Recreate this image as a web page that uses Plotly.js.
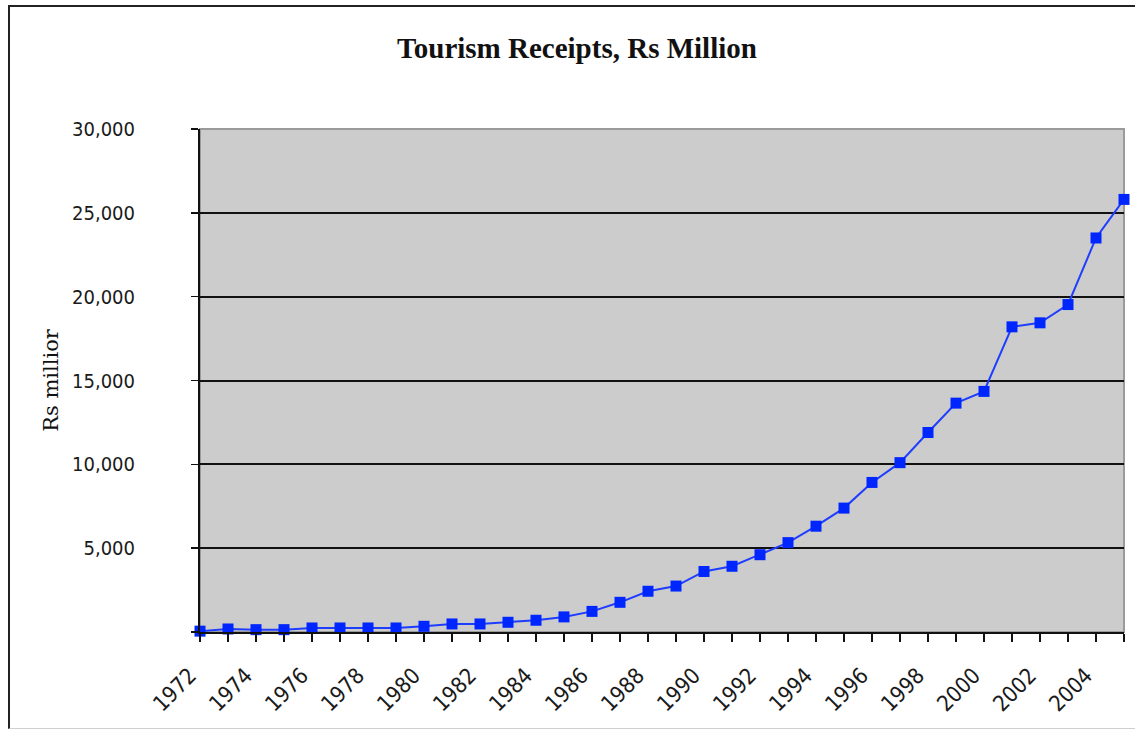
<!DOCTYPE html>
<html>
<head>
<meta charset="utf-8">
<script src="https://cdn.plot.ly/plotly-3.0.1.min.js"></script>
<style>
  html, body { margin: 0; padding: 0; background: #ffffff; }
  #wrap { position: relative; width: 1135px; height: 730px; overflow: hidden; }
  #chart { position: absolute; left: 0; top: 0; width: 1135px; height: 730px; }
  /* chart-area frame: dark on the left and top, light along the bottom, open to the right */
  #frame {
    position: absolute; left: 8px; top: 5px; width: 1140px; height: 721px;
    border-left: 2px solid #222; border-top: 2px solid #222; border-bottom: 1px solid #cfcfcf;
    pointer-events: none; z-index: 2;
  }
</style>
</head>
<body>
<div id="wrap">
  <div id="chart"></div>
  <div id="frame"></div>
</div>
<script>
// Annual tourism receipts, Rs million
const years = [1972, 1973, 1974, 1975, 1976, 1977, 1978, 1979, 1980, 1981,
               1982, 1983, 1984, 1985, 1986, 1987, 1988, 1989, 1990, 1991,
               1992, 1993, 1994, 1995, 1996, 1997, 1998, 1999, 2000, 2001,
               2002, 2003, 2004, 2005];
const receipts = [50, 180, 140, 140, 240, 240, 240, 240, 340, 480,
                  480, 580, 700, 900, 1230, 1770, 2430, 2740, 3610, 3920,
                  4610, 5330, 6310, 7390, 8920, 10100, 11900, 13650, 14350, 18200,
                  18440, 19530, 23500, 25800];

// Axis labels
const yearTicks = [1972, 1974, 1976, 1978, 1980, 1982, 1984, 1986, 1988, 1990,
                   1992, 1994, 1996, 1998, 2000, 2002, 2004];
const yearLabels = yearTicks.map(String);
const valueTicks = [0, 5000, 10000, 15000, 20000, 25000, 30000];
const valueLabels = ['', '5,000', '10,000', '15,000', '20,000', '25,000', '30,000'];

const narrowSans = '"Liberation Sans Narrow", "DejaVu Sans Condensed", "Arial Narrow", sans-serif';

const trace = {
  x: years,
  y: receipts,
  type: 'scatter',
  mode: 'lines+markers',
  line: { color: '#1f3dff', width: 2 },
  marker: { symbol: 'square', size: 11, color: '#0026ff', line: { width: 0 } },
  cliponaxis: false,
  hoverinfo: 'x+y'
};

const layout = {
  width: 1135,
  height: 730,
  margin: { l: 200, r: 11, t: 129, b: 98 },
  paper_bgcolor: '#ffffff',
  plot_bgcolor: '#cccccc',
  showlegend: false,
  title: {
    text: 'Tourism Receipts, Rs Million',
    font: { family: '"Liberation Serif", "Times New Roman", serif', size: 29, color: '#111111', weight: 'bold' },
    xref: 'container', x: 577 / 1135, xanchor: 'center',
    yref: 'container', y: 1 - 48 / 730, yanchor: 'middle'
  },
  xaxis: {
    range: [1972, 2005],
    tickmode: 'array',
    tickvals: yearTicks,
    ticktext: yearLabels,
    tickangle: -45,
    ticks: 'outside',
    ticklen: 8,
    tickwidth: 1.5,
    tickcolor: '#111',
    ticklabelstandoff: 12,
    ticklabelshift: -10,
    minor: { tickmode: 'linear', tick0: 1972, dtick: 1, ticks: 'outside', ticklen: 8, tickwidth: 1.5, tickcolor: '#111', showgrid: false },
    showgrid: false,
    zeroline: false,
    showline: true,
    linecolor: '#111',
    linewidth: 2,
    tickfont: { family: narrowSans, size: 22, color: '#1a1a1a' },
    fixedrange: true
  },
  yaxis: {
    range: [0, 30000],
    tickmode: 'array',
    tickvals: valueTicks,
    ticktext: valueLabels,
    ticks: 'outside',
    ticklen: 7,
    tickwidth: 1.5,
    tickcolor: '#111',
    ticklabelstandoff: 52,
    showgrid: true,
    gridcolor: '#111',
    gridwidth: 2,
    zeroline: false,
    showline: true,
    linecolor: '#111',
    linewidth: 2,
    tickfont: { family: narrowSans, size: 20, color: '#1a1a1a' },
    title: {
      text: 'Rs millior',
      font: { family: '"DejaVu Serif", "Liberation Serif", serif', size: 21, color: '#111' },
      standoff: 8
    },
    fixedrange: true
  },
  shapes: [{
    // grey plot-area border, drawn over the grid but under the series
    type: 'rect', xref: 'paper', yref: 'paper', x0: 0, x1: 1, y0: 0, y1: 1,
    line: { color: '#9a9a9a', width: 2 }, fillcolor: 'rgba(0,0,0,0)', layer: 'between'
  }]
};

Plotly.newPlot('chart', [trace], layout, { displayModeBar: false, staticPlot: true });
</script>
</body>
</html>
